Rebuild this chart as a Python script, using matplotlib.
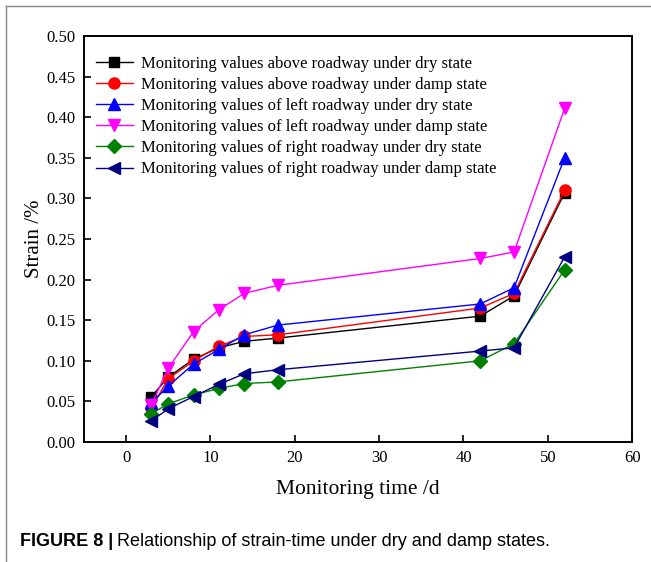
import matplotlib.pyplot as plt
from matplotlib.lines import Line2D

days = [3, 5, 8, 11, 14, 18, 42, 46, 52]

above_dry = [0.056, 0.080, 0.102, 0.116, 0.124, 0.128, 0.155, 0.180, 0.307]
above_damp = [0.042, 0.078, 0.100, 0.118, 0.130, 0.132, 0.165, 0.183, 0.310]
left_dry = [0.048, 0.069, 0.096, 0.114, 0.132, 0.144, 0.170, 0.190, 0.350]
left_damp = [0.046, 0.091, 0.136, 0.163, 0.183, 0.193, 0.226, 0.234, 0.411]
right_dry = [0.035, 0.047, 0.058, 0.066, 0.072, 0.074, 0.100, 0.121, 0.212]
right_damp = [0.026, 0.041, 0.056, 0.071, 0.084, 0.089, 0.112, 0.116, 0.228]

labels = ['Monitoring values above roadway under dry state',
          'Monitoring values above roadway under damp state',
          'Monitoring values of left roadway under dry state',
          'Monitoring values of left roadway under damp state',
          'Monitoring values of right roadway under dry state',
          'Monitoring values of right roadway under damp state']

series = [above_dry, above_damp, left_dry, left_damp, right_dry, right_damp]
colors = ['black', 'red', 'blue', 'magenta', '#008000', '#000080']
markers = ['s', 'o', '^', 'v', 'D', '<']
msizes = [7, 8, 8, 8, 7, 8]

plt.rcParams['font.family'] = ['Liberation Serif', 'DejaVu Serif']

fig = plt.figure(figsize=(6.51, 5.62), dpi=100)
ax = fig.add_axes([0.129, 0.2135, 0.842, 0.7225])

for vals, lab, c, m, ms in zip(series, labels, colors, markers, msizes):
    ax.plot(days, vals, color=c, marker=m, markersize=ms, linewidth=1.0,
            label=lab)

ax.set_xlim(-5, 60)
ax.set_ylim(0, 0.5)
ax.set_xticks(range(0, 61, 10))
ax.set_yticks([i * 0.05 for i in range(11)])
ax.set_yticklabels(['%.2f' % (i * 0.05) for i in range(11)])
ax.tick_params(direction='in', labelsize=12, length=5, width=1.2, pad=6)
for s in ax.spines.values():
    s.set_linewidth(1.4)
ax.set_xlabel('Monitoring time /d', fontsize=15.5, labelpad=10)
ax.set_ylabel('Strain /%', fontsize=15, labelpad=2)

ax.legend(loc='upper left', frameon=False, fontsize=12, handlelength=2.2,
          handletextpad=0.5, labelspacing=0.31, borderaxespad=0.0,
          bbox_to_anchor=(0.01, 0.968))

# thin gray frame round the figure panel
fig.add_artist(Line2D([6 / 651, 6 / 651], [0, 1 - 6 / 562],
                      transform=fig.transFigure, color='#888888', lw=1.0))
fig.add_artist(Line2D([6 / 651, 1], [1 - 6 / 562, 1 - 6 / 562],
                      transform=fig.transFigure, color='#888888', lw=1.0))

fig.text(20 / 651, 1 - 541 / 562, 'FIGURE 8 |', fontsize=13,
         fontweight='bold', family='Liberation Sans', va='center')
fig.text(117 / 651, 1 - 541 / 562,
         'Relationship of strain-time under dry and damp states.',
         fontsize=13, family='Liberation Sans', va='center')

fig.savefig('out.png', dpi=100)
